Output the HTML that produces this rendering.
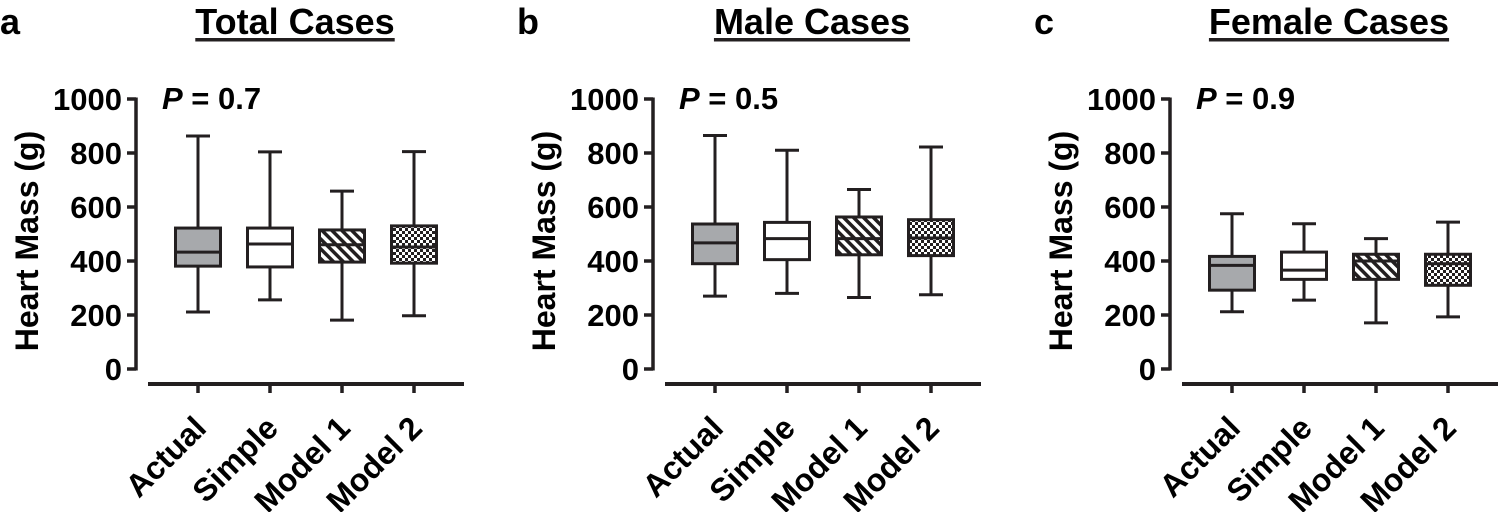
<!DOCTYPE html>
<html><head><meta charset="utf-8"><style>
html,body{margin:0;padding:0;background:#fff;}
svg{display:block;font-family:"Liberation Sans",Arial,sans-serif;font-weight:bold;}
</style></head><body>
<svg id="chart" width="1504" height="512" viewBox="0 0 1504 512">
<defs>
<pattern id="hatch" patternUnits="userSpaceOnUse" width="7" height="7" patternTransform="rotate(-45)">
<rect width="7" height="7" fill="#fff"/><rect x="0" y="0" width="3.5" height="7" fill="#231f20"/>
</pattern>
<pattern id="check" patternUnits="userSpaceOnUse" width="6" height="6">
<rect width="6" height="6" fill="#231f20"/><rect x="0" y="0" width="3" height="3" fill="#fff"/><rect x="3" y="3" width="3" height="3" fill="#fff"/>
</pattern>
</defs>
</svg>
<script>
const categories = ["Actual","Simple","Model 1","Model 2"];
const panelLetters = ["a","b","c"];
const panelTitles = ["Total Cases","Male Cases","Female Cases"];
const pValues = ["0.7","0.5","0.9"];
const yTicks = [0,200,400,600,800,1000];
// per panel: [min, q1, median, q3, max] for each category
const totalStats = [[211,381,433,522,863],[256,378,463,522,804],[181,396,460,515,659],[197,392,452,530,805]];
const maleStats = [[270,390,467,537,865],[280,405,483,543,810],[265,423,483,563,665],[275,420,485,553,822]];
const femaleStats = [[212,292,384,417,575],[255,332,366,433,538],[171,332,400,425,483],[193,310,390,425,544]];
const allStats = [totalStats, maleStats, femaleStats];
const fills = ["#a7a9ac","#fff","url(#hatch)","url(#check)"];

const svg = document.getElementById('chart');
const NS = "http://www.w3.org/2000/svg";
function mk(tag, attrs, parent){const e=document.createElementNS(NS,tag);for(const k in attrs)e.setAttribute(k,attrs[k]);(parent||svg).appendChild(e);return e;}
const panelX = [136, 653, 1170];
const y0 = 369, yTop = 99;
function yScale(v){return y0 - (v/1000)*(y0-yTop);}
function xScale(i, ax){return ax + 62 + i*72;}

allStats.forEach((stats, p) => {
  const ax = panelX[p];
  const g = mk('g', {});
  
  
  let t = mk('text', {x: ax-136, y: 34, 'font-size': 36}, g); t.textContent = panelLetters[p];
  
  
  t = mk('text', {x: ax+159, y: 34, 'font-size': 36, 'text-anchor':'middle'}, g); t.textContent = panelTitles[p];
  
  
  const tw = t.getComputedTextLength();
  mk('rect', {x: ax+159-tw/2, y: 38, width: tw, height: 3.5, fill:'#231f20'}, g);
  t = mk('text', {x: ax+26, y: 109, 'font-size': 31}, g);
  t.innerHTML = '<tspan font-style="italic">P</tspan> = ' + pValues[p];
  
  
  t = mk('text', {x: 0, y: 0, 'font-size': 32, 'text-anchor':'middle', transform:`translate(${ax-98},${(y0+yTop)/2+7}) rotate(-90)`}, g);
  t.textContent = 'Heart Mass (g)';
  
  
  const yl = mk('line', {x1: ax, x2: ax, y1: yTop-1.5, y2: y0+1.5, stroke:'#231f20', 'stroke-width':3.5}, g);
  
  
  yTicks.forEach(v => {
    mk('line', {x1: ax-9, x2: ax, y1: yScale(v), y2: yScale(v), stroke:'#231f20', 'stroke-width':3.5}, g);
    const tl = mk('text', {x: ax-14, y: yScale(v)+11, 'font-size': 31, 'text-anchor':'end'}, g);
    tl.textContent = v;
    
    
  });
  const xl = mk('line', {x1: ax+12, x2: ax+328, y1: 384, y2: 384, stroke:'#231f20', 'stroke-width':4}, g);
  
  
  stats.forEach((s, i) => {
    const cx = xScale(i, ax);
    mk('line', {x1: cx, x2: cx, y1: 384, y2: 393, stroke:'#231f20', 'stroke-width':3.5}, g);
    const cl = mk('text', {x: 0, y: 0, 'font-size': 32, 'text-anchor':'end', transform:`translate(${cx+10},${430}) rotate(-45)`}, g);
    cl.textContent = categories[i];
    
    
    const bg = mk('g', {}, g);
    
    
    const [mn, q1, md, q3, mx] = s;
    const st = {stroke:'#231f20', 'stroke-width':3};
    mk('line', Object.assign({x1: cx, x2: cx, y1: yScale(mx), y2: yScale(q3)}, st), bg);
    mk('line', Object.assign({x1: cx, x2: cx, y1: yScale(q1), y2: yScale(mn)}, st), bg);
    mk('line', Object.assign({x1: cx-12, x2: cx+12, y1: yScale(mx), y2: yScale(mx)}, st), bg);
    mk('line', Object.assign({x1: cx-12, x2: cx+12, y1: yScale(mn), y2: yScale(mn)}, st), bg);
    mk('rect', Object.assign({x: cx-22.5, y: yScale(q3), width: 45, height: yScale(q1)-yScale(q3), fill: fills[i]}, st), bg);
    mk('line', Object.assign({x1: cx-22.5, x2: cx+22.5, y1: yScale(md), y2: yScale(md)}, st), bg);
  });
});
</script>
</body></html>
